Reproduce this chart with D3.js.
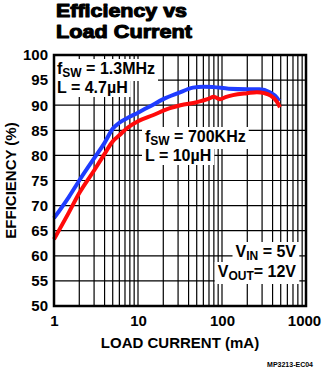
<!DOCTYPE html>
<html>
<head>
<meta charset="utf-8">
<script src="https://cdn.jsdelivr.net/npm/d3@7"></script>
<style>
  html, body { margin: 0; padding: 0; background: #fff; }
  svg { display: block; font-family: "Liberation Sans", Arial, sans-serif; }
</style>
</head>
<body>
<svg id="chart" width="326" height="372"></svg>
<script>
// Efficiency vs load current, two switching-frequency configurations
const loadCurrent13MHz = [1, 1.5, 2, 3, 4, 5, 6, 7.4, 10, 14, 20, 30, 45, 60, 80, 120, 200, 280, 370, 450, 480];
const efficiency13MHz  = [67.5, 71.7, 75.0, 79.4, 82.5, 85.3, 86.5, 87.4, 88.5, 89.8, 91.2, 92.4, 93.5, 93.7, 93.6, 93.3, 93.2, 93.2, 92.6, 91.5, 90.8];

const loadCurrent700KHz = [1, 1.5, 2, 3, 4, 5, 6, 7.5, 10, 15, 24, 32, 50, 70, 80, 95, 110, 135, 200, 260, 320, 380, 450, 490];
const efficiency700KHz  = [63.3, 68.6, 72.5, 77.0, 80.3, 82.8, 84.0, 85.5, 86.8, 88.0, 89.4, 90.0, 90.6, 91.3, 91.7, 91.2, 91.6, 92.0, 92.4, 92.6, 92.4, 91.9, 90.7, 89.6];

const yTicks = [50, 55, 60, 65, 70, 75, 80, 85, 90, 95, 100];
const xTicks = [1, 10, 100, 1000];

const svg = d3.select("#chart");
const plot = { left: 54, right: 306, top: 55, bottom: 306 };

const x = d3.scaleLog().domain([1, 1000]).range([plot.left, plot.right]);
const y = d3.scaleLinear().domain([50, 100]).range([plot.bottom, plot.top]);

// Title
const title = svg.append("text")
  .attr("font-size", 19).attr("font-weight", "bold")
  .attr("fill", "#000").attr("stroke", "#000").attr("stroke-width", 1.1)
  .attr("stroke-linejoin", "round");
title.append("tspan").attr("x", 56).attr("y", 17)
  .attr("textLength", 131).attr("lengthAdjust", "spacingAndGlyphs").text("Efficiency vs");
title.append("tspan").attr("x", 56).attr("y", 38)
  .attr("textLength", 136).attr("lengthAdjust", "spacingAndGlyphs").text("Load Current");

// Grid: vertical lines on every 1..9 of each decade, horizontal every 5%
const minorX = [];
for (let d = 1; d < 1000; d *= 10) for (let k = 1; k <= 9; k++) minorX.push(d * k);
minorX.push(1000);

const grid = svg.append("g").attr("stroke", "#000").attr("stroke-width", 1.2);
grid.selectAll("line.v").data(minorX).join("line")
  .attr("x1", d => x(d)).attr("x2", d => x(d))
  .attr("y1", plot.top).attr("y2", plot.bottom);
grid.selectAll("line.h").data(yTicks).join("line")
  .attr("x1", plot.left).attr("x2", plot.right)
  .attr("y1", d => y(d)).attr("y2", d => y(d));

// Axes (labels only; the frame is drawn separately)
const yAxis = d3.axisLeft(y).tickValues(yTicks).tickSize(0).tickPadding(6);
const yg = svg.append("g").attr("transform", `translate(${plot.left},0)`).call(yAxis);
yg.select(".domain").remove();
yg.selectAll("text").attr("font-size", 15).attr("font-weight", "bold")
  .attr("font-family", "Liberation Sans, Arial, sans-serif");

const xAxis = d3.axisBottom(x).tickValues(xTicks).tickFormat(d3.format("d")).tickSize(0).tickPadding(9);
const xg = svg.append("g").attr("transform", `translate(0,${plot.bottom})`).call(xAxis);
xg.select(".domain").remove();
xg.selectAll("text").attr("font-size", 15).attr("font-weight", "bold")
  .attr("font-family", "Liberation Sans, Arial, sans-serif");
xg.selectAll(".tick").filter(d => d === 1000).select("text").attr("dx", -2);

// Axis titles
svg.append("text")
  .attr("x", 180).attr("y", 348).attr("text-anchor", "middle")
  .attr("font-size", 15).attr("font-weight", "bold")
  .text("LOAD CURRENT (mA)");
svg.append("text")
  .attr("transform", `translate(16,${(plot.top + plot.bottom) / 2}) rotate(-90)`)
  .attr("text-anchor", "middle")
  .attr("font-size", 15).attr("font-weight", "bold")
  .text("EFFICIENCY (%)");

// Annotation blocks with white backgrounds behind each line of text
function label(lines, xPos, anchor) {
  const g = svg.append("g");
  lines.forEach(l => {
    const bg = g.append("rect").attr("fill", "#fff");
    const t = g.append("text")
      .attr("x", xPos).attr("y", l.y).attr("text-anchor", anchor)
      .attr("font-size", 16).attr("font-weight", "bold");
    t.append("tspan").text(l.main);
    if (l.sub) {
      t.append("tspan").attr("font-size", 12).attr("dy", 3).text(l.sub);
      t.append("tspan").attr("dy", -3).text(l.rest);
    }
    const b = t.node().getBBox();
    bg.attr("x", b.x - 3).attr("y", b.y - 1).attr("width", b.width + 6).attr("height", b.height + 2);
  });
}

// Curves
const line = d3.line().x(d => x(d[0])).y(d => y(d[1])).curve(d3.curveMonotoneX);
svg.append("path")
  .datum(loadCurrent13MHz.map((v, i) => [v, efficiency13MHz[i]]))
  .attr("fill", "none").attr("stroke", "#1f3cff").attr("stroke-width", 4)
  .attr("stroke-linejoin", "round").attr("d", line);
svg.append("path")
  .datum(loadCurrent700KHz.map((v, i) => [v, efficiency700KHz[i]]))
  .attr("fill", "none").attr("stroke", "#ff0a0a").attr("stroke-width", 4)
  .attr("stroke-linejoin", "round").attr("d", line);

label([
  { main: "f", sub: "SW", rest: " = 1.3MHz", y: 74 },
  { main: "L = 4.7\u00b5H", y: 93 }
], 57, "start");
label([
  { main: "f", sub: "SW", rest: " = 700KHz", y: 142 },
  { main: "L = 10\u00b5H", y: 161 }
], 145, "start");
label([
  { main: "V", sub: "IN", rest: " = 5V", y: 257 },
  { main: "V", sub: "OUT", rest: "= 12V", y: 277 }
], 296, "end");

// Frame
svg.append("rect")
  .attr("x", plot.left).attr("y", plot.top)
  .attr("width", plot.right - plot.left).attr("height", plot.bottom - plot.top)
  .attr("fill", "none").attr("stroke", "#000").attr("stroke-width", 2.5);

// Figure code
svg.append("text")
  .attr("x", 313).attr("y", 367).attr("text-anchor", "end")
  .attr("font-size", 7).attr("font-weight", "bold")
  .text("MP3213-EC04");
</script>
</body>
</html>
